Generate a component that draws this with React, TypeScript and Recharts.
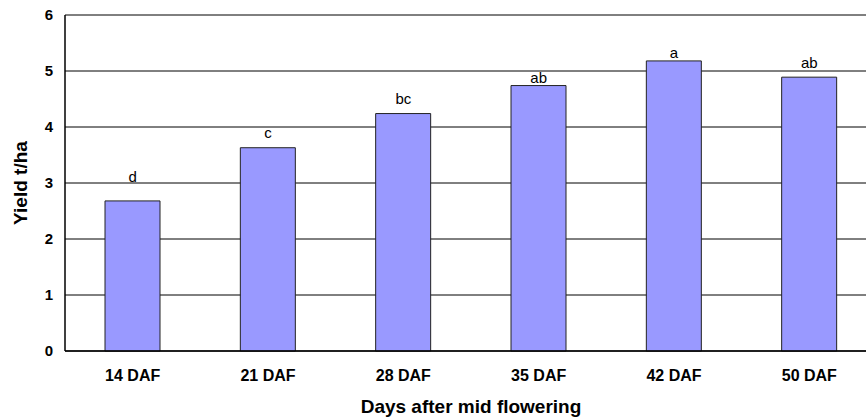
import React from 'react';
import { ComposedChart, Bar, Line, XAxis, YAxis, CartesianGrid, LabelList } from 'recharts';

// yield by harvest timing
const categories = ['14 DAF', '21 DAF', '28 DAF', '35 DAF', '42 DAF', '50 DAF'];
const yieldValues = [2.68, 3.63, 4.24, 4.74, 5.18, 4.89];
// where the significance letters sit (t/ha), and the letters themselves
const letterHeights = [3.01, 3.8, 4.41, 4.78, 5.23, 5.05];
const letters = ['d', 'c', 'bc', 'ab', 'a', 'ab'];
const yTicks = [0, 1, 2, 3, 4, 5, 6];

const data = categories.map((name, i) => ({
  name,
  value: yieldValues[i],
  top: letterHeights[i],
  letter: letters[i],
}));

const FONT = 'Arial, "Liberation Sans", sans-serif';

const YLabel = (props: any) => {
  const { viewBox } = props;
  const cx = 20;
  const cy = viewBox.y + viewBox.height / 2;
  return (
    <text
      x={cx}
      y={cy}
      transform={`rotate(-90 ${cx} ${cy})`}
      textAnchor="middle"
      dominantBaseline="central"
      fontSize={19}
      fontWeight="bold"
      fontFamily={FONT}
      fill="#000"
    >
      Yield t/ha
    </text>
  );
};

const App: React.FC = () => {
  return (
    <div
      style={{
        position: 'fixed',
        left: 0,
        top: 0,
        width: 866,
        height: 420,
        overflow: 'hidden',
        background: '#fff',
      }}
    >
      <ComposedChart
        width={890}
        height={420}
        data={data}
        margin={{ top: 15, right: 13, left: 0, bottom: 7 }}
        style={{ fontFamily: FONT }}
      >
        <CartesianGrid horizontal vertical={false} stroke="#000" strokeWidth={1} />
        <XAxis
          dataKey="name"
          height={62}
          axisLine={{ stroke: '#000', strokeWidth: 1.5 }}
          tickLine={false}
          tickSize={0}
          tickMargin={19}
          tick={{ fill: '#000', fontSize: 16, fontWeight: 'bold' }}
          label={{
            value: 'Days after mid flowering',
            position: 'insideBottom',
            offset: 0,
            fill: '#000',
            fontSize: 19,
            fontWeight: 'bold',
          }}
        />
        <YAxis
          width={65}
          domain={[0, 6]}
          ticks={yTicks}
          axisLine={{ stroke: '#000', strokeWidth: 1.5 }}
          tickLine={false}
          tickSize={0}
          tickMargin={12}
          tick={{ fill: '#000', fontSize: 15, fontWeight: 'bold' }}
          label={<YLabel />}
        />
        <Bar
          dataKey="value"
          barSize={55}
          fill="#9999FF"
          stroke="#222"
          strokeWidth={1}
          isAnimationActive={false}
        />
        <Line
          dataKey="top"
          stroke="none"
          dot={false}
          activeDot={false}
          isAnimationActive={false}
        >
          <LabelList dataKey="letter" position="top" offset={0} fill="#000" fontSize={15} />
        </Line>
      </ComposedChart>
    </div>
  );
};

export default App;
